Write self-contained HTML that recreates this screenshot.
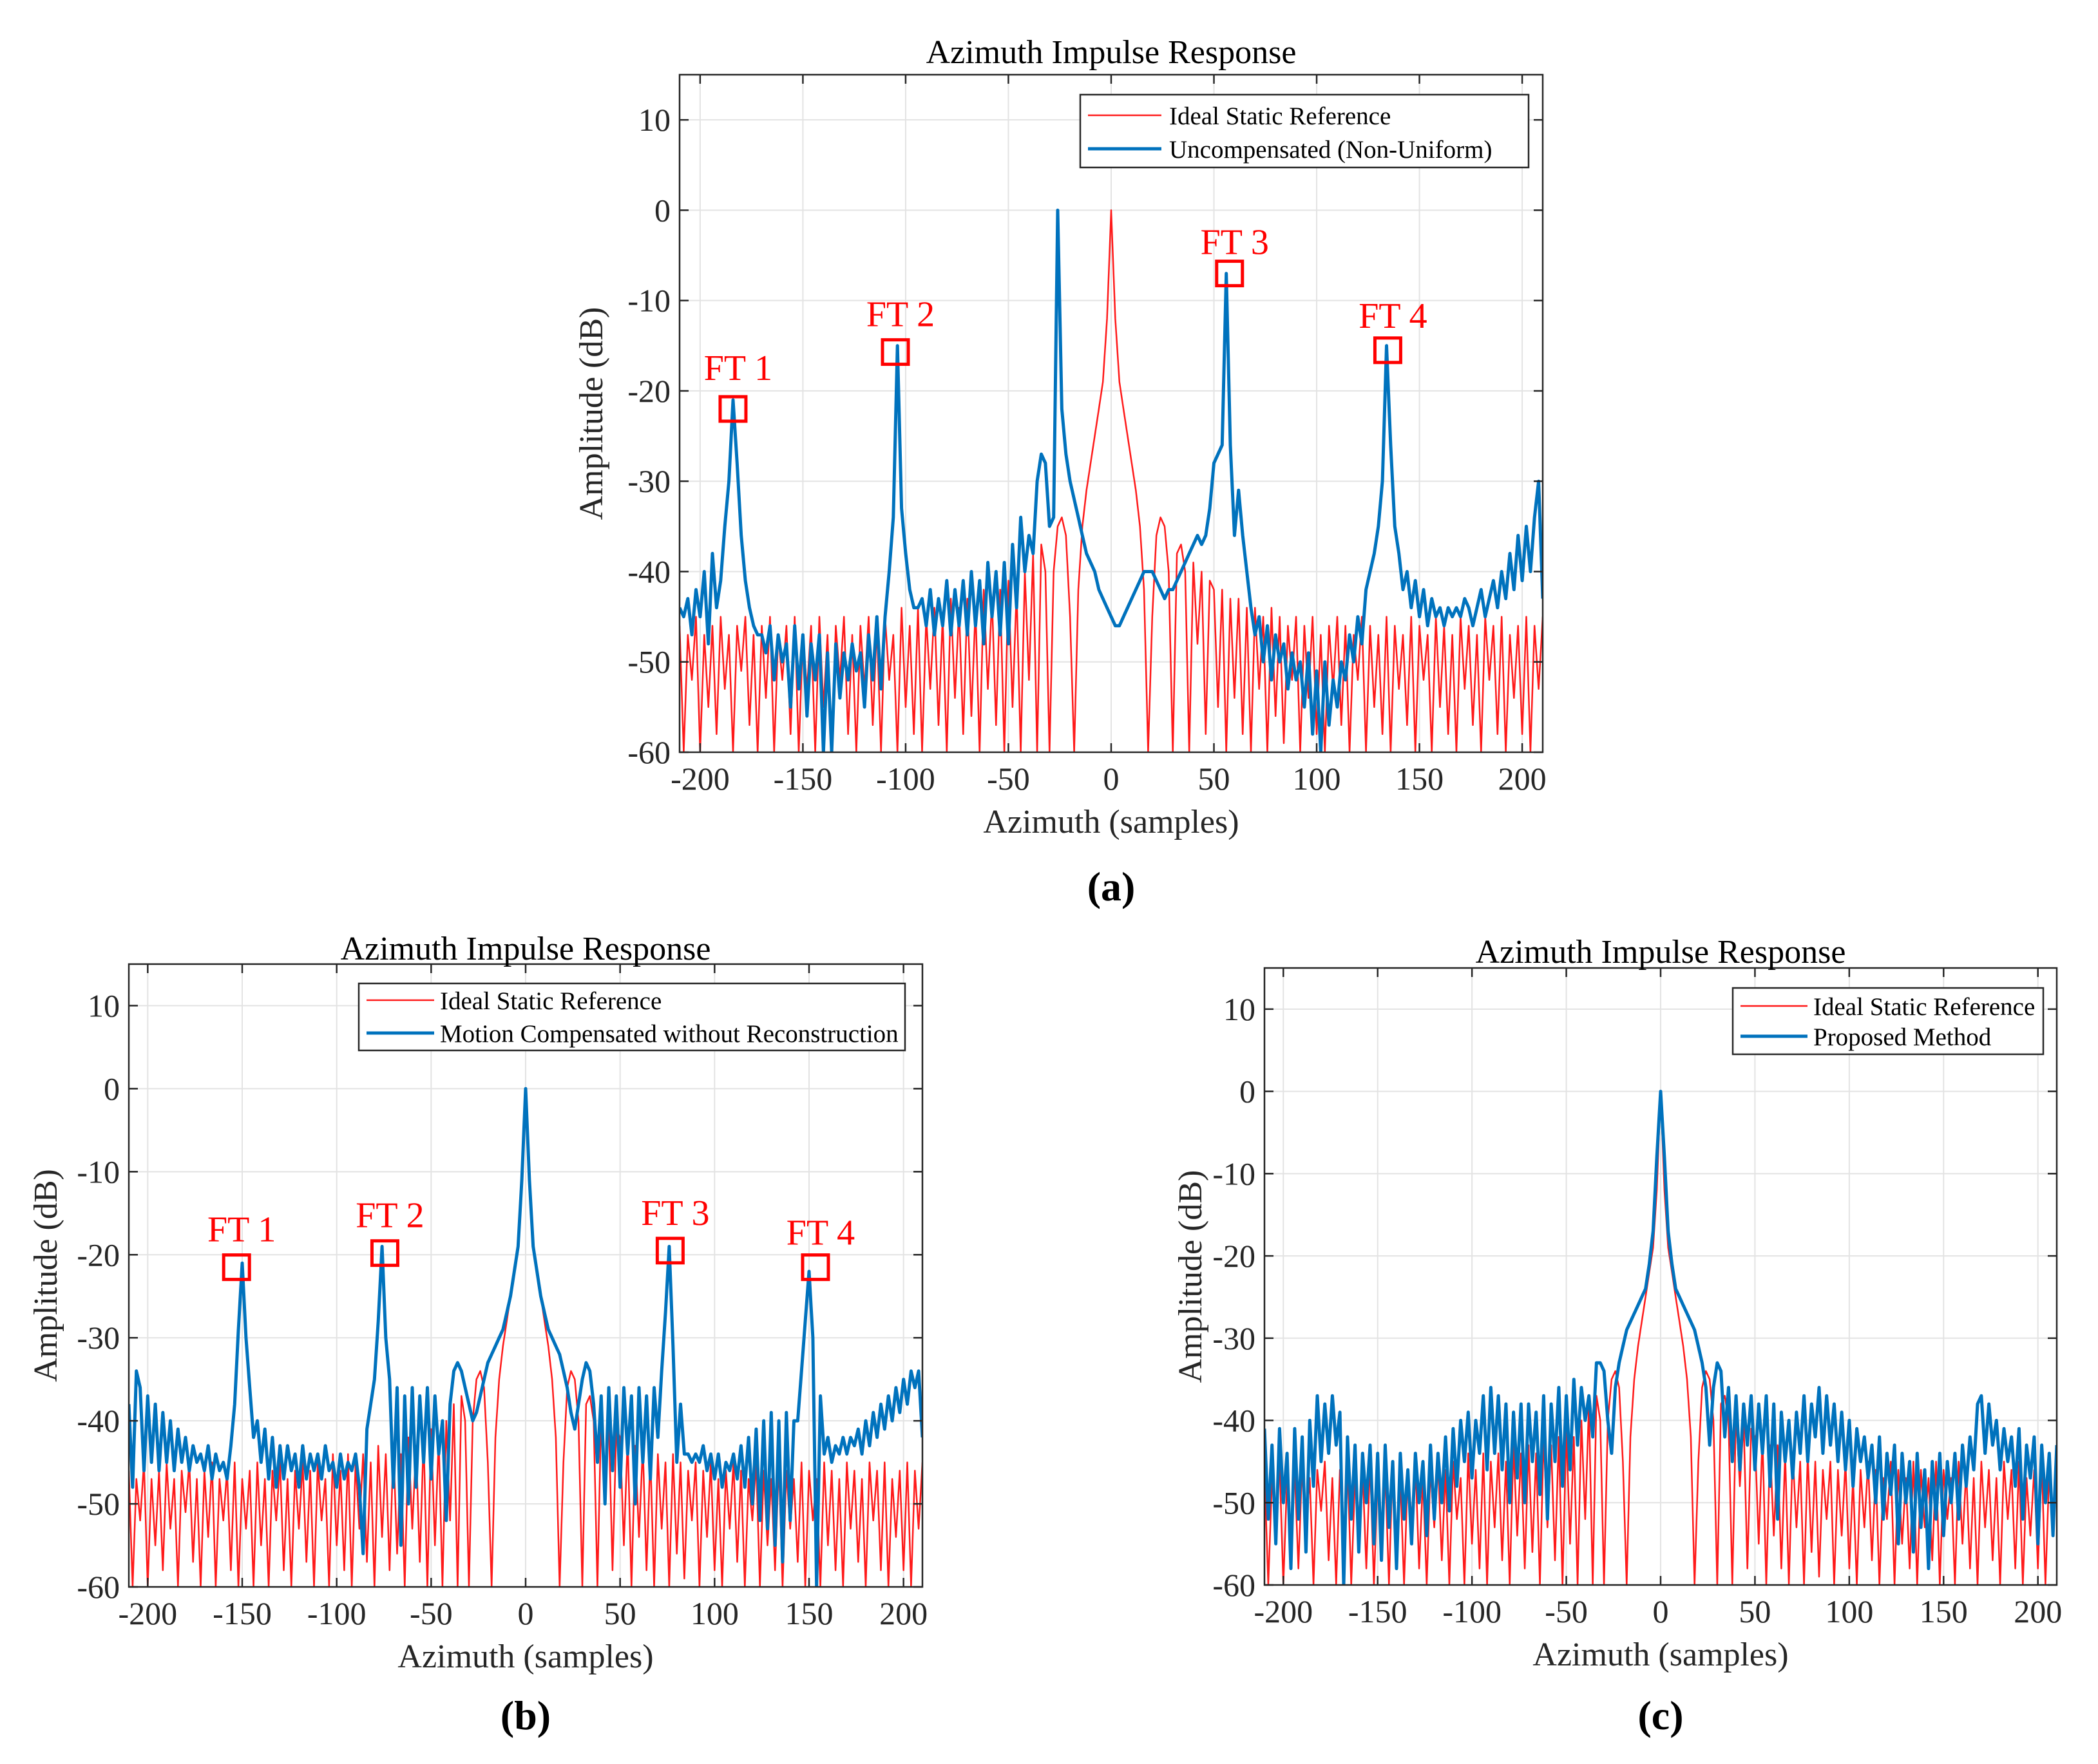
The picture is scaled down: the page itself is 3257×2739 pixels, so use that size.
<!DOCTYPE html>
<html><head><meta charset="utf-8">
<style>
html,body{margin:0;padding:0;background:#fff;}
svg{display:block;font-family:"Liberation Serif",serif;}
</style></head>
<body>
<svg id="fig" width="3257" height="2739" viewBox="0 0 3257 2739" xmlns="http://www.w3.org/2000/svg"></svg>
<script>
// ---- data (samples from -210 step 2) ----
const xStart = -210;
const xStep = 2;
const xTicks = [-200,-150,-100,-50,0,50,100,150,200];
const yTicks = [-60,-50,-40,-30,-20,-10,0,10];
const idealRef = [
-46,-60,-47,-52,-45,-60,-47,-55,-46,-58,
-45,-53,-47,-60,-46,-51,-45,-57,-47,-60,
-46,-54,-45,-60,-47,-52,-46,-58,-45,-60,
-47,-53,-46,-60,-45,-55,-47,-60,-46,-52,
-45,-58,-47,-60,-46,-53,-45,-57,-46,-60,
-45,-52,-47,-60,-44,-55,-46,-58,-44,-60,
-45,-53,-44,-57,-45,-60,-43,-54,-44,-58,
-43,-56,-44,-60,-42,-53,-43,-57,-42,-60,
-41,-55,-42,-60,-40,-52,-38,-60,-37,-40,
-60,-40,-35,-34,-36,-45,-60,-42,-35,-31,
-28,-25,-22,-19,-12,0,-12,-19,-22,-25,
-28,-31,-35,-42,-60,-45,-36,-34,-35,-40,
-60,-38,-37,-40,-60,-39,-48,-40,-58,-41,
-42,-55,-42,-60,-43,-54,-43,-58,-44,-60,
-44,-53,-45,-60,-44,-56,-45,-59,-46,-52,
-45,-60,-46,-54,-45,-58,-47,-60,-46,-53,
-45,-57,-46,-60,-47,-52,-45,-60,-46,-55,
-47,-58,-45,-60,-46,-53,-47,-57,-45,-60,
-46,-52,-47,-60,-45,-55,-46,-58,-47,-60,
-45,-53,-46,-57,-47,-60,-45,-52,-46,-58,
-45,-60,-47,-54,-46,-58,-45,-60,-46,-53,-45];
const uncompensated = [
-44,-45,-43,-47,-42,-45,-40,-48,-38,-44,
-41,-35,-30,-21,-28,-36,-41,-44,-46,-47,
-47,-49,-46,-52,-47,-50,-48,-55,-46,-53,
-47,-56,-48,-52,-47,-60,-49,-60,-48,-54,
-49,-52,-48,-51,-49,-55,-47,-52,-45,-53,
-45,-40,-34,-15,-33,-38,-42,-44,-44,-43,
-46,-42,-47,-43,-46,-41,-47,-42,-46,-41,
-47,-40,-46,-41,-48,-39,-45,-40,-47,-39,
-48,-37,-44,-34,-40,-36,-38,-30,-27,-28,
-35,-34,0,-22,-27,-30,-32,-34,-36,-38,
-39,-40,-42,-43,-44,-45,-46,-46,-45,-44,
-43,-42,-41,-40,-40,-40,-41,-42,-43,-42,
-42,-41,-40,-39,-38,-37,-36,-37,-36,-33,
-28,-27,-26,-7,-26,-36,-31,-36,-40,-44,
-47,-45,-50,-46,-52,-47,-50,-48,-53,-49,
-52,-50,-55,-49,-58,-51,-60,-50,-57,-52,
-55,-50,-52,-47,-50,-45,-48,-42,-40,-38,
-35,-30,-15,-26,-35,-38,-42,-40,-44,-41,
-45,-42,-46,-43,-45,-44,-46,-44,-45,-44,
-45,-43,-44,-46,-44,-42,-45,-43,-41,-44,
-40,-43,-38,-42,-36,-41,-35,-40,-34,-30,-43];
const motionComp = [
-38,-48,-34,-36,-46,-37,-45,-38,-46,-39,
-45,-40,-46,-41,-45,-42,-46,-43,-45,-44,
-46,-43,-47,-44,-46,-45,-47,-43,-38,-29,
-21,-30,-36,-42,-40,-45,-41,-47,-42,-48,
-43,-47,-43,-46,-44,-48,-43,-47,-44,-46,
-44,-47,-43,-46,-45,-48,-44,-47,-45,-46,
-44,-48,-56,-41,-38,-35,-28,-19,-30,-35,
-48,-36,-55,-37,-50,-36,-48,-37,-45,-36,
-47,-37,-44,-40,-52,-38,-34,-33,-34,-36,
-38,-40,-39,-37,-35,-33,-32,-31,-30,-29,
-27,-25,-22,-19,-11,0,-11,-19,-22,-25,
-27,-29,-30,-31,-32,-34,-36,-39,-41,-38,
-35,-33,-34,-38,-45,-37,-50,-36,-46,-37,
-48,-36,-44,-37,-50,-36,-45,-37,-47,-36,
-42,-34,-27,-19,-31,-45,-38,-44,-44,-45,
-44,-45,-43,-46,-44,-47,-44,-48,-45,-46,
-44,-47,-43,-48,-42,-50,-41,-52,-40,-53,
-39,-55,-40,-57,-39,-52,-40,-40,-34,-28,
-22,-30,-60,-37,-44,-42,-45,-43,-44,-42,
-44,-42,-43,-41,-44,-40,-43,-39,-42,-38,
-41,-37,-40,-36,-39,-35,-38,-34,-36,-34,-42];
const proposed = [
-41,-52,-43,-55,-41,-50,-44,-58,-41,-52,
-42,-56,-40,-48,-37,-45,-38,-44,-37,-43,
-39,-60,-42,-52,-43,-56,-44,-50,-43,-55,
-44,-57,-43,-53,-45,-58,-44,-52,-46,-55,
-44,-50,-45,-54,-43,-52,-44,-50,-42,-51,
-41,-48,-40,-45,-39,-47,-40,-44,-37,-46,
-36,-44,-37,-46,-38,-50,-39,-47,-38,-50,
-38,-45,-39,-49,-37,-52,-38,-45,-36,-48,
-37,-46,-35,-43,-36,-40,-37,-42,-33,-33,
-34,-40,-44,-36,-33,-31,-29,-28,-27,-26,
-25,-24,-21,-17,-8,0,-8,-17,-21,-24,
-25,-26,-27,-28,-29,-31,-33,-36,-43,-36,
-33,-34,-42,-36,-45,-37,-46,-38,-43,-37,
-46,-38,-44,-37,-48,-38,-52,-39,-45,-40,
-47,-39,-44,-37,-45,-38,-42,-36,-44,-37,
-43,-38,-45,-39,-46,-40,-48,-41,-45,-42,
-47,-43,-50,-42,-52,-44,-49,-43,-55,-44,
-50,-45,-56,-44,-53,-46,-58,-45,-52,-44,
-54,-45,-50,-44,-52,-43,-48,-42,-46,-38,
-37,-44,-38,-43,-40,-46,-41,-45,-42,-48,
-41,-52,-43,-47,-42,-55,-43,-50,-44,-54,-43];
const ftLabels = ["FT 1","FT 2","FT 3","FT 4"];
const ftA_x = [-184,-105,57.6,134.6];
const ftA_y = [-22,-15.7,-7,-15.5];
const ftB_x = [-153,-74.5,76.5,153.4];
const ftB_y = [-21.5,-19.8,-19.5,-21.5];

const NS = "http://www.w3.org/2000/svg";
const svg = document.getElementById('fig');
function mk(tag, attrs, parent){
  const e = document.createElementNS(NS, tag);
  for (const k in attrs) e.setAttribute(k, attrs[k]);
  (parent||svg).appendChild(e);
  return e;
}

function panel(cfg){
  const g = mk('g', {});
  
  
  const L=cfg.l, R=cfg.r, T=cfg.t, B=cfg.b;
  const xmin=-210, xmax=210, ymin=-60, ymax=15;
  const sx = v => L + (v - xmin) / (xmax - xmin) * (R - L);
  const sy = v => B - (v - ymin) / (ymax - ymin) * (B - T);
  xTicks.forEach(t => {
    const ln = mk('line', {x1:sx(t), x2:sx(t), y1:T, y2:B, stroke:'#e3e3e3', 'stroke-width':2}, g);
    
    
  });
  yTicks.forEach(t => {
    const ln = mk('line', {x1:L, x2:R, y1:sy(t), y2:sy(t), stroke:'#e3e3e3', 'stroke-width':2}, g);
    
    
  });
  const cid = 'clip-' + cfg.name;
  const cp = mk('clipPath', {id:cid}, g);
  mk('rect', {x:L, y:T, width:R-L, height:B-T}, cp);
  cfg.series.forEach(s => {
    let d = '';
    s.values.forEach((v, i) => {
      const x = xStart + i * xStep;
      d += (i ? 'L' : 'M') + sx(x).toFixed(1) + ' ' + sy(Math.max(v, ymin - 2)).toFixed(1);
    });
    const p = mk('path', {d:d, fill:'none', stroke:s.color, 'stroke-width':s.w, 'stroke-linejoin':'round', 'clip-path':'url(#'+cid+')'}, g);
    
    
  });
  const box = mk('rect', {x:L, y:T, width:R-L, height:B-T, fill:'none', stroke:'#262626', 'stroke-width':2.5}, g);
  
  
  xTicks.forEach(t => {
    mk('line', {x1:sx(t), x2:sx(t), y1:B, y2:B-14, stroke:'#262626', 'stroke-width':2.5}, g);
    mk('line', {x1:sx(t), x2:sx(t), y1:T, y2:T+14, stroke:'#262626', 'stroke-width':2.5}, g);
    const tx = mk('text', {x:sx(t), y:B+58, 'font-size':50, 'text-anchor':'middle', fill:'#262626'}, g);
    
    
    tx.textContent = t;
  });
  yTicks.forEach(t => {
    mk('line', {x1:L, x2:L+14, y1:sy(t), y2:sy(t), stroke:'#262626', 'stroke-width':2.5}, g);
    mk('line', {x1:R, x2:R-14, y1:sy(t), y2:sy(t), stroke:'#262626', 'stroke-width':2.5}, g);
    const tx = mk('text', {x:L-14, y:sy(t)+17, 'font-size':50, 'text-anchor':'end', fill:'#262626'}, g);
    
    
    tx.textContent = t;
  });
  const ti = mk('text', {x:(L+R)/2, y:cfg.titleY, 'font-size':52, 'text-anchor':'middle', fill:'#000'}, g);
  
  
  ti.textContent = 'Azimuth Impulse Response';
  const xl = mk('text', {x:(L+R)/2, y:B+125, 'font-size':52, 'text-anchor':'middle', fill:'#262626'}, g);
  
  
  xl.textContent = 'Azimuth (samples)';
  const yl = mk('text', {x:0, y:0, 'font-size':52, 'text-anchor':'middle', fill:'#262626', transform:'translate('+(cfg.ylX)+','+((T+B)/2)+') rotate(-90)'}, g);
  
  
  yl.textContent = 'Amplitude (dB)';
  const sl = mk('text', {x:(L+R)/2, y:cfg.subY, 'font-size':64, 'font-weight':'bold', 'text-anchor':'middle', fill:'#000'}, g);
  
  
  sl.textContent = cfg.sub;
  const lg = cfg.legend;
  const lgG = mk('g', {}, g);
  
  
  mk('rect', {x:lg.x1, y:lg.y1, width:lg.x2-lg.x1, height:lg.y2-lg.y1, fill:'#fff', stroke:'#262626', 'stroke-width':2.5}, lgG);
  cfg.series.forEach((s, i) => {
    const y = lg.rows[i];
    mk('line', {x1:lg.lx1, x2:lg.lx2, y1:y, y2:y, stroke:s.color, 'stroke-width':s.w}, lgG);
    const t = mk('text', {x:lg.tx, y:y+14, 'font-size':39, fill:'#000'}, lgG);
    
    
    t.textContent = s.label;
  });
  if (cfg.ftX) {
    cfg.ftX.forEach((fx, i) => {
      const cx = sx(fx), cy = sy(cfg.ftY[i]);
      const r = mk('rect', {x:cx-20, y:cy-19, width:40, height:38, fill:'none', stroke:'#ff0000', 'stroke-width':5}, g);
      
      
      const t = mk('text', {x:cx+8, y:cy-cfg.ftOff[i], 'font-size':56, 'text-anchor':'middle', fill:'#ff0000'}, g);
      
      
      t.textContent = ftLabels[i];
    });
  }
}

const RED = '#ff1a1a', BLUE = '#0072bd';
panel({name:'panel-a', l:1055, r:2395, t:116, b:1168, titleY:98, ylX:935, subY:1398, sub:'(a)',
  series:[{id:'ideal-reference-line', label:'Ideal Static Reference', values:idealRef, color:RED, w:2.5},
          {id:'uncompensated-line', label:'Uncompensated (Non-Uniform)', values:uncompensated, color:BLUE, w:5}],
  legend:{x1:1677, y1:147, x2:2373, y2:260, lx1:1689, lx2:1803, tx:1815, rows:[179,231]},
  ftX:ftA_x, ftY:ftA_y, ftOff:[45,40,30,35]});
panel({name:'panel-b', l:200, r:1432, t:1497, b:2464, titleY:1490, ylX:88, subY:2685, sub:'(b)',
  series:[{id:'ideal-reference-line', label:'Ideal Static Reference', values:idealRef, color:RED, w:2.5},
          {id:'motion-compensated-line', label:'Motion Compensated without Reconstruction', values:motionComp, color:BLUE, w:5}],
  legend:{x1:557, y1:1527, x2:1405, y2:1631, lx1:569, lx2:674, tx:683, rows:[1553,1604]},
  ftX:ftB_x, ftY:ftB_y, ftOff:[40,40,40,35]});
panel({name:'panel-c', l:1963, r:3193, t:1503, b:2461, titleY:1495, ylX:1865, subY:2685, sub:'(c)',
  series:[{id:'ideal-reference-line', label:'Ideal Static Reference', values:idealRef, color:RED, w:2.5},
          {id:'proposed-method-line', label:'Proposed Method', values:proposed, color:BLUE, w:5}],
  legend:{x1:2690, y1:1534, x2:3172, y2:1637, lx1:2702, lx2:2806, tx:2815, rows:[1562,1609]}});
</script>
</body></html>
